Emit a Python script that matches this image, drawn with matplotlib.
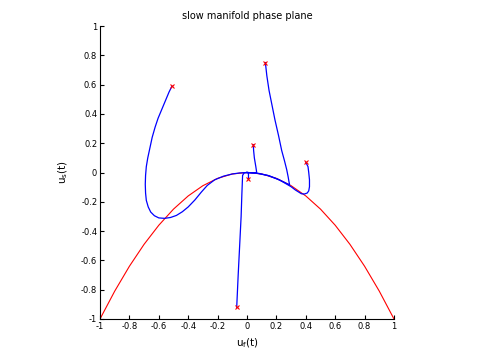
import matplotlib
matplotlib.use('Agg')
import matplotlib.pyplot as plt
import numpy as np

# slow manifold (red)
man_x = [-1.0, -0.9, -0.8, -0.7, -0.6, -0.5, -0.4, -0.3, -0.2, -0.1, 0.0,
         0.1, 0.2, 0.3, 0.4, 0.5, 0.6, 0.7, 0.8, 0.9, 1.0]
man_y = [-1.0, -0.81, -0.64, -0.49, -0.36, -0.25, -0.16, -0.09, -0.04, -0.01, 0.0,
         -0.01, -0.04, -0.09, -0.16, -0.25, -0.36, -0.49, -0.64, -0.81, -1.0]

# trajectories (blue)
t1_x = [-0.51, -0.53, -0.555, -0.58, -0.605, -0.625, -0.645, -0.66, -0.675, -0.685, -0.69,
        -0.692, -0.69, -0.685, -0.672, -0.655, -0.63, -0.60, -0.56, -0.52, -0.48, -0.44,
        -0.40, -0.355, -0.31, -0.27, -0.22, -0.16, -0.10, -0.05, 0.0]
t1_y = [0.59, 0.55, 0.49, 0.43, 0.37, 0.31, 0.24, 0.17, 0.10, 0.04, -0.02,
        -0.08, -0.14, -0.19, -0.235, -0.27, -0.295, -0.31, -0.313, -0.307, -0.293, -0.268,
        -0.235, -0.188, -0.133, -0.088, -0.05, -0.025, -0.01, -0.003, 0.0]
t2_x = [-0.07, -0.06, -0.05, -0.04, -0.035, -0.03, -0.02, 0.0]
t2_y = [-0.92, -0.70, -0.50, -0.30, -0.15, -0.02, -0.003, 0.0]
t3_x = [0.01, 0.01, 0.0]
t3_y = [-0.045, -0.005, 0.0]
t4_x = [0.043, 0.045, 0.05, 0.06, 0.066, 0.04, 0.0]
t4_y = [0.19, 0.15, 0.10, 0.04, 0.0, -0.002, 0.0]
t5_x = [0.125, 0.135, 0.15, 0.17, 0.19, 0.215, 0.236, 0.255, 0.27, 0.28, 0.285, 0.29,
        0.25, 0.20, 0.15, 0.08, 0.0]
t5_y = [0.75, 0.66, 0.56, 0.46, 0.36, 0.25, 0.15, 0.08, 0.02, -0.03, -0.06, -0.085,
        -0.065, -0.042, -0.022, -0.006, 0.0]
t6_x = [0.40, 0.415, 0.42, 0.425, 0.425, 0.42, 0.41, 0.39, 0.37, 0.33, 0.30, 0.22, 0.14, 0.06, 0.0]
t6_y = [0.07, 0.04, 0.0, -0.05, -0.097, -0.125, -0.14, -0.147, -0.145, -0.12, -0.097,
        -0.05, -0.02, -0.004, 0.0]

trajs = [(t1_x, t1_y), (t2_x, t2_y), (t3_x, t3_y), (t4_x, t4_y), (t5_x, t5_y), (t6_x, t6_y)]

fig = plt.figure(figsize=(4.8, 3.6), dpi=100)
ax = fig.add_axes([100/480, 41/360, 294/480, 293/360])

ax.plot(man_x, man_y, color='red', lw=0.8)
for tx, ty in trajs:
    ax.plot(tx, ty, color='blue', lw=0.9)
    ax.plot(tx[0], ty[0], 'x', color='red', ms=3, mew=0.8)

ax.set_xlim(-1, 1)
ax.set_ylim(-1, 1)
ticks = np.arange(-1, 1.01, 0.2)
labels = ['-1', '-0.8', '-0.6', '-0.4', '-0.2', '0', '0.2', '0.4', '0.6', '0.8', '1']
ax.set_xticks(ticks)
ax.set_xticklabels(labels)
ax.set_yticks(ticks)
ax.set_yticklabels(labels)
ax.tick_params(direction='in', length=3, width=0.8, labelsize=6, pad=2)
ax.spines['top'].set_visible(False)
ax.spines['right'].set_visible(False)

ax.set_title('slow manifold phase plane', fontsize=7, pad=5)
ax.set_xlabel(r'u$_\mathregular{f}$(t)', fontsize=7.5, labelpad=4)
ax.set_ylabel(r'u$_\mathregular{s}$(t)', fontsize=7.5, labelpad=8)

fig.savefig('out.png', dpi=100)
